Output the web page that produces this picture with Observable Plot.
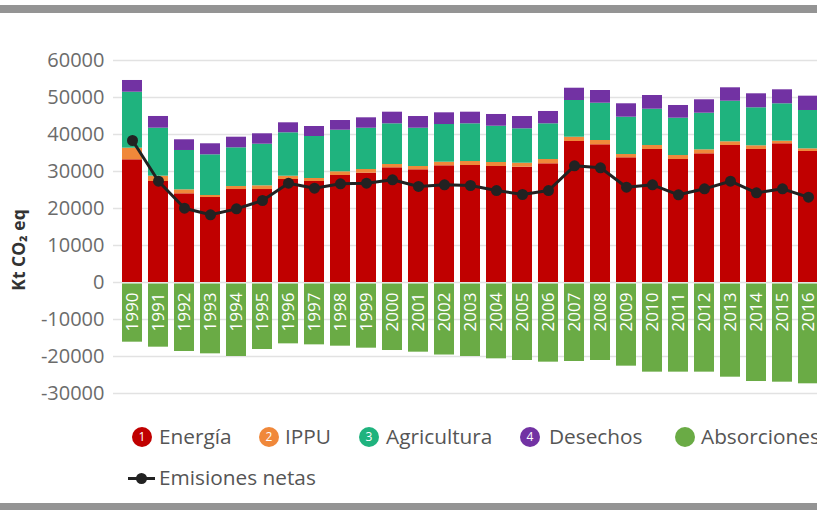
<!DOCTYPE html>
<html>
<head>
<meta charset="utf-8">
<script src="https://cdn.jsdelivr.net/npm/d3@7"></script>
<script src="https://cdn.jsdelivr.net/npm/@observablehq/plot@0.6"></script>
<style>
  html, body { margin: 0; padding: 0; width: 817px; height: 510px; overflow: hidden; background: #fff; font-family: "Open Sans", sans-serif; }
  #wrap { position: absolute; left: 0; top: 0; width: 817px; height: 510px; overflow: hidden; }
  .bar { position: absolute; left: 0; width: 817px; background: #949494; }
  #chart { position: absolute; left: 0; top: 0; width: 827px; }
  #chart svg { max-width: none !important; }
  #ytitle { position: absolute; left: 18px; top: 250px; transform: translate(-50%, -50%) rotate(-90deg); white-space: nowrap; font-weight: 700; font-size: 17.5px; color: #333; }
  .lg { position: absolute; font-size: 20.8px; color: #555; white-space: nowrap; line-height: 1; }
  .dot { position: absolute; width: 20px; height: 20px; border-radius: 50%; color: #fff; font-size: 12px; line-height: 20px; text-align: center; }
</style>
</head>
<body>
<div id="wrap">
  <div class="bar" style="top:5px;height:8px;"></div>
  <div id="chart"></div>
  <div id="ytitle">Kt CO₂ eq</div>
  <div id="legend"></div>
  <div class="bar" style="top:503px;height:7px;"></div>
</div>
<script>
// ---- Data ----
const years = ["1990","1991","1992","1993","1994","1995","1996","1997","1998","1999","2000","2001","2002","2003","2004","2005","2006","2007","2008","2009","2010","2011","2012","2013","2014","2015","2016"];
const energia     = [33160,27300,23970,22970,25130,25130,27840,27300,28920,29540,31000,30460,31540,31620,31350,31160,32080,38110,37220,33700,35950,33240,34780,37030,35950,37490,35410];
const ippu        = [3140,1440,1080,540,820,1000,890,810,1000,1000,890,890,970,1080,1080,1080,1160,1160,1160,890,1080,1080,1080,1000,1000,700,720];
const agricultura = [15130,12970,10630,11000,10450,11250,11730,11350,11240,11160,11000,10350,10190,10190,9810,9300,9650,9920,10080,10090,9810,10090,9900,10970,10270,10110,10360];
const desechos    = [3170,3160,2890,2980,2870,2810,2700,2700,2620,2810,3140,3160,3160,3140,3170,3320,3330,3320,3430,3620,3700,3430,3620,3620,3780,3780,3870];
const absorciones = [-16130,-17480,-18650,-19280,-20000,-18110,-16580,-16850,-17210,-17750,-18380,-18830,-19600,-20000,-20630,-21080,-21530,-21350,-21080,-22610,-24230,-24230,-24230,-25590,-26760,-26940,-27380];
const netas       = [38380,27380,20080,18300,19900,22160,26840,25490,26680,26840,27760,25950,26400,26220,24860,23780,24860,31540,31000,25760,26400,23700,25320,27380,24240,25320,23050];
const yTicks = [60000,50000,40000,30000,20000,10000,0,-10000,-20000,-30000];
const seriesNames = ["Energía","IPPU","Agricultura","Desechos","Absorciones"];
const seriesColors = ["#c00000","#f0883a","#1fb37e","#7232a3","#6aab45"];
const netName = "Emisiones netas";

// ---- Tidy tables ----
const positive = [];
years.forEach((y, i) => {
  positive.push({year: y, series: "Energía", value: energia[i]});
  positive.push({year: y, series: "IPPU", value: ippu[i]});
  positive.push({year: y, series: "Agricultura", value: agricultura[i]});
  positive.push({year: y, series: "Desechos", value: desechos[i]});
});
const negative = years.map((y, i) => ({year: y, series: "Absorciones", value: absorciones[i]}));
const net = years.map((y, i) => ({year: y, value: netas[i]}));

const chart = Plot.plot({
  width: 827,
  height: 400,
  marginLeft: 113,
  marginRight: 0,
  marginTop: 60,
  marginBottom: 7,
  style: {fontFamily: "Open Sans", fontSize: "20px", background: "transparent", overflow: "visible", maxWidth: "none"},
  x: {type: "band", domain: years, paddingInner: 0.24, paddingOuter: 0.12, axis: null},
  y: {domain: [-30000, 60000], axis: null},
  color: {domain: seriesNames, range: seriesColors},
  marks: [
    Plot.ruleY(yTicks, {stroke: "#e2e2e2", strokeWidth: 1.5}),
    Plot.text(yTicks, {y: d => d, text: d => String(d), frameAnchor: "left", dx: -9, textAnchor: "end", fill: "#6b6b6b", fontSize: 20}),
    Plot.barY(positive, {x: "year", y: "value", fill: "series", order: seriesNames.slice(0, 4)}),
    Plot.barY(negative, {x: "year", y: "value", fill: "series", insetTop: 1.5}),
    Plot.text(years, {x: d => d, y: 0, text: d => d, rotate: -90, textAnchor: "end", dy: 10, fill: "#ffffff", fontSize: 17}),
    Plot.line(net, {x: "year", y: "value", stroke: "#222", strokeWidth: 3}),
    Plot.dot(net, {x: "year", y: "value", r: 5.5, fill: "#222"})
  ]
});
chart.style.maxWidth = "none";
document.getElementById("chart").appendChild(chart);

// ---- Legend (HTML) ----
const legend = document.getElementById("legend");
const dotX = [132, 259, 359, 520, 675];
const textX = [159, 285, 386, 549, 701];
seriesNames.forEach((name, i) => {
  const d = document.createElement("div");
  d.className = "dot";
  d.style.left = dotX[i] + "px";
  d.style.top = "427px";
  d.style.background = seriesColors[i];
  d.textContent = i < 4 ? String(i + 1) : "";
  legend.appendChild(d);
  const t = document.createElement("div");
  t.className = "lg";
  t.style.left = textX[i] + "px";
  t.style.top = "426px";
  t.textContent = name;
  legend.appendChild(t);
});
const line = document.createElement("div");
line.style.cssText = "position:absolute;left:128px;top:477px;width:27px;height:3px;background:#222;";
legend.appendChild(line);
const ld = document.createElement("div");
ld.style.cssText = "position:absolute;left:135.5px;top:473px;width:11px;height:11px;border-radius:50%;background:#222;";
legend.appendChild(ld);
const lt = document.createElement("div");
lt.className = "lg";
lt.style.left = "159px";
lt.style.top = "467px";
lt.textContent = netName;
legend.appendChild(lt);
</script>
</body>
</html>
